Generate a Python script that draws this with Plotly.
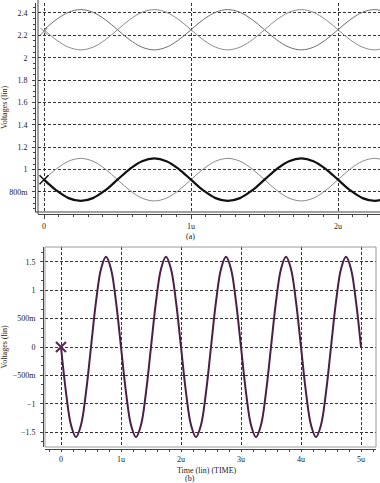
import plotly.graph_objects as go

# ---------------- data ----------------
# panel (a): time in microseconds
t_a = [0, 0.083, 0.167, 0.25, 0.333, 0.417, 0.5, 0.583, 0.667, 0.75, 0.833, 0.917,
       1.0, 1.083, 1.167, 1.25, 1.333, 1.417, 1.5, 1.583, 1.667, 1.75, 1.833, 1.917,
       2.0, 2.083, 2.167, 2.25, 2.333]
upper_a1 = [2.25, 2.34, 2.406, 2.43, 2.406, 2.34, 2.25, 2.16, 2.094, 2.07, 2.094, 2.16,
            2.25, 2.34, 2.406, 2.43, 2.406, 2.34, 2.25, 2.16, 2.094, 2.07, 2.094, 2.16,
            2.25, 2.34, 2.406, 2.43, 2.406]
upper_a2 = [2.25, 2.16, 2.094, 2.07, 2.094, 2.16, 2.25, 2.34, 2.406, 2.43, 2.406, 2.34,
            2.25, 2.16, 2.094, 2.07, 2.094, 2.16, 2.25, 2.34, 2.406, 2.43, 2.406, 2.34,
            2.25, 2.16, 2.094, 2.07, 2.094]
lower_thin = [0.91, 1.005, 1.075, 1.10, 1.075, 1.005, 0.91, 0.815, 0.745, 0.72, 0.745, 0.815,
              0.91, 1.005, 1.075, 1.10, 1.075, 1.005, 0.91, 0.815, 0.745, 0.72, 0.745, 0.815,
              0.91, 1.005, 1.075, 1.10, 1.075]
lower_thick = [0.91, 0.815, 0.745, 0.72, 0.745, 0.815, 0.91, 1.005, 1.075, 1.10, 1.075, 1.005,
               0.91, 0.815, 0.745, 0.72, 0.745, 0.815, 0.91, 1.005, 1.075, 1.10, 1.075, 1.005,
               0.91, 0.815, 0.745, 0.72, 0.745]

# panel (b)
t_b = [0, 0.083, 0.167, 0.25, 0.333, 0.417, 0.5, 0.583, 0.667, 0.75, 0.833, 0.917,
       1.0, 1.083, 1.167, 1.25, 1.333, 1.417, 1.5, 1.583, 1.667, 1.75, 1.833, 1.917,
       2.0, 2.083, 2.167, 2.25, 2.333, 2.417, 2.5, 2.583, 2.667, 2.75, 2.833, 2.917,
       3.0, 3.083, 3.167, 3.25, 3.333, 3.417, 3.5, 3.583, 3.667, 3.75, 3.833, 3.917,
       4.0, 4.083, 4.167, 4.25, 4.333, 4.417, 4.5, 4.583, 4.667, 4.75, 4.833, 4.917, 5.0]
v_b = [0, -0.795, -1.377, -1.59, -1.377, -0.795, 0, 0.795, 1.377, 1.59, 1.377, 0.795,
       0, -0.795, -1.377, -1.59, -1.377, -0.795, 0, 0.795, 1.377, 1.59, 1.377, 0.795,
       0, -0.795, -1.377, -1.59, -1.377, -0.795, 0, 0.795, 1.377, 1.59, 1.377, 0.795,
       0, -0.795, -1.377, -1.59, -1.377, -0.795, 0, 0.795, 1.377, 1.59, 1.377, 0.795,
       0, -0.795, -1.377, -1.59, -1.377, -0.795, 0, 0.795, 1.377, 1.59, 1.377, 0.795, 0]

xt_a_vals = [0, 1, 2]
xt_a_text = ["0", "1u", "2u"]
yt_a_vals = [0.8, 1.0, 1.2, 1.4, 1.6, 1.8, 2.0, 2.2, 2.4]
yt_a_text = ["800m", "1", "1.2", "1.4", "1.6", "1.8", "2", "2.2", "2.4"]
xt_b_vals = [0, 1, 2, 3, 4, 5]
xt_b_text = ["0", "1u", "2u", "3u", "4u", "5u"]
yt_b_vals = [-1.5, -1, -0.5, 0, 0.5, 1, 1.5]
yt_b_text = ["\u22121.5", "\u22121", "\u2212500m", "0", "500m", "1", "1.5"]

# ---------------- figure ----------------
W, H = 380, 483
def px(x):
    return x / W
def py(y):
    return 1 - y / H

FONT = "Liberation Serif"
fig = go.Figure()

fig.add_trace(go.Scatter(x=t_a, y=upper_a1, mode="lines", line=dict(color="#6e6e6e", width=1, shape="spline"),
                         xaxis="x", yaxis="y", hoverinfo="skip"))
fig.add_trace(go.Scatter(x=t_a, y=upper_a2, mode="lines", line=dict(color="#8c8c8c", width=1, shape="spline"),
                         xaxis="x", yaxis="y", hoverinfo="skip"))
fig.add_trace(go.Scatter(x=t_a, y=lower_thin, mode="lines", line=dict(color="#8a8a8a", width=1, shape="spline"),
                         xaxis="x", yaxis="y", hoverinfo="skip"))
fig.add_trace(go.Scatter(x=t_a, y=lower_thick, mode="lines", line=dict(color="#111111", width=2.2, shape="spline"),
                         xaxis="x", yaxis="y", hoverinfo="skip"))
fig.add_trace(go.Scatter(x=[t_a[0]], y=[lower_thick[0]], mode="markers",
                         marker=dict(symbol="x-thin-open", size=9, color="#111111", line=dict(color="#111111", width=1.5)),
                         xaxis="x", yaxis="y", hoverinfo="skip"))
fig.add_trace(go.Scatter(x=[t_a[0]], y=[upper_a1[0] - 0.015], mode="markers",
                         marker=dict(symbol="x-thin-open", size=7, color="#777777", line=dict(color="#777777", width=1)),
                         xaxis="x", yaxis="y", hoverinfo="skip"))

fig.add_trace(go.Scatter(x=t_b, y=v_b, mode="lines", line=dict(color="#4a2046", width=2, shape="spline"),
                         xaxis="x2", yaxis="y2", hoverinfo="skip"))
fig.add_trace(go.Scatter(x=[t_b[0]], y=[v_b[0]], mode="markers",
                         marker=dict(symbol="x-thin-open", size=10, color="#5a2a58", line=dict(color="#5a2a58", width=2.2)),
                         xaxis="x2", yaxis="y2", hoverinfo="skip"))

tickfont = dict(family=FONT, size=8, color="#222")
grid = dict(showgrid=True, gridcolor="#333", gridwidth=1, griddash="3px,2px", zeroline=False)

fig.update_layout(
    width=W, height=H, margin=dict(l=0, r=0, t=0, b=0),
    paper_bgcolor="white", plot_bgcolor="white", showlegend=False,
    xaxis=dict(domain=[px(38), 1], range=[-6 / 147, 336 / 147], anchor="free", position=py(214),
               tickmode="array", tickvals=xt_a_vals, ticktext=xt_a_text, tickfont=tickfont,
               showline=True, linecolor="#444", linewidth=1, ticks="outside", ticklen=4, tickcolor="#444",
               minor=dict(dtick=0.1, ticks="outside", ticklen=2, tickcolor="#444", showgrid=False),
               ticklabelstandoff=0, **grid),
    yaxis=dict(domain=[py(212), py(3)], range=[0.621, 2.489], anchor="free", position=px(35),
               tickmode="array", tickvals=yt_a_vals, ticktext=yt_a_text, tickfont=tickfont,
               showline=True, linecolor="#444", linewidth=1, ticks="outside", ticklen=3, tickcolor="#444",
               minor=dict(dtick=0.05, ticks="outside", ticklen=2, tickcolor="#444", showgrid=False),
               ticklabelstandoff=3,
               title=dict(text="Voltages (lin)", font=dict(family=FONT, size=8, color="#222"), standoff=4),
               **grid),
    xaxis2=dict(domain=[px(45), px(376)], range=[-16 / 60, 315 / 60], anchor="free", position=py(449),
                tickmode="array", tickvals=xt_b_vals, ticktext=xt_b_text, tickfont=tickfont,
                showline=True, linecolor="#444", linewidth=1, ticks="outside", ticklen=2, tickcolor="#444",
                minor=dict(dtick=0.2, ticks="outside", ticklen=2, tickcolor="#444", showgrid=False),
                ticklabelstandoff=0, **grid),
    yaxis2=dict(domain=[py(447), py(247)], range=[-1.764, 1.764], anchor="free", position=px(43),
                tickmode="array", tickvals=yt_b_vals, ticktext=yt_b_text, tickfont=tickfont,
                showline=True, linecolor="#444", linewidth=1, ticks="outside", ticklen=3, tickcolor="#444",
                minor=dict(dtick=0.5 / 3, ticks="outside", ticklen=2, tickcolor="#444", showgrid=False),
                ticklabelstandoff=3,
                title=dict(text="Voltages (lin)", font=dict(family=FONT, size=8, color="#222"), standoff=4),
                **grid),
    shapes=[
        dict(type="line", xref="paper", yref="paper", x0=px(38), x1=px(38), y0=py(214), y1=1,
             line=dict(color="#444", width=1)),
        dict(type="line", xref="paper", yref="paper", x0=px(35), x1=1, y0=py(212), y1=py(212),
             line=dict(color="#444", width=1)),
        dict(type="rect", xref="paper", yref="paper", x0=px(45), x1=px(376), y0=py(447), y1=py(247),
             line=dict(color="#9a9a9a", width=1)),
    ],
    annotations=[
        dict(text="(a)", xref="paper", yref="paper", x=px(190), y=py(236), showarrow=False,
             font=dict(family=FONT, size=8, color="#222"), xanchor="center", yanchor="middle"),
        dict(text="Time (lin) (TIME)", xref="paper", yref="paper", x=px(207), y=py(470.5), showarrow=False,
             font=dict(family=FONT, size=8, color="#222"), xanchor="center", yanchor="middle",
             borderpad=0),
        dict(text="(b)", xref="paper", yref="paper", x=px(190), y=0, showarrow=False,
             font=dict(family=FONT, size=8, color="#222"), xanchor="center", yanchor="bottom",
             yshift=-1, borderpad=0),
    ],
)

fig.write_html("out.html")
